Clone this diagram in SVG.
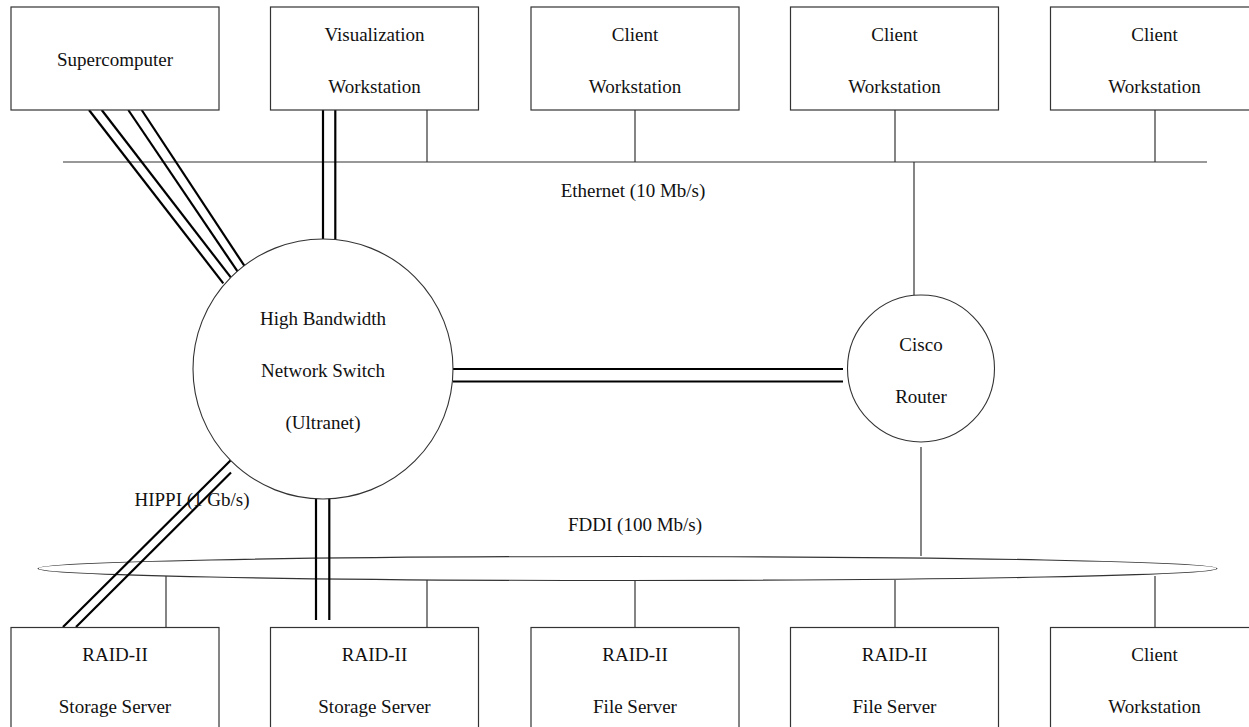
<svg xmlns="http://www.w3.org/2000/svg" width="1249" height="727" viewBox="0 0 1249 727">
<style>
.box{fill:#fff;stroke:#333;stroke-width:1.2}
.node-shape{fill:#fff;stroke:#333;stroke-width:1.1}
.thin{stroke:#333;stroke-width:1.2;fill:none}
.thick{stroke:#000;stroke-width:2.2;fill:none}
text{font-family:"Liberation Serif","Times New Roman",serif;font-size:19px;fill:#111;text-anchor:middle}
</style>
<rect width="1249" height="727" fill="#fff"/>
<g id="connectors">
<line class="thin" x1="63" y1="162" x2="1207" y2="162"/>
<line class="thin" x1="427" y1="110" x2="427" y2="162"/>
<line class="thin" x1="635" y1="110" x2="635" y2="162"/>
<line class="thin" x1="895" y1="110" x2="895" y2="162"/>
<line class="thin" x1="1155" y1="110" x2="1155" y2="162"/>
<line class="thin" x1="914" y1="162" x2="914" y2="296"/>
<line class="thin" x1="921" y1="447" x2="921" y2="556"/>
<ellipse class="thin" cx="627.5" cy="568.5" rx="589.5" ry="12"/>
<line class="thin" x1="166" y1="576" x2="166" y2="627"/>
<line class="thin" x1="427" y1="580" x2="427" y2="627"/>
<line class="thin" x1="635" y1="581" x2="635" y2="627"/>
<line class="thin" x1="895" y1="580" x2="895" y2="627"/>
<line class="thin" x1="1155" y1="576" x2="1155" y2="627"/>
<line class="thick" x1="89" y1="110" x2="223.3" y2="283.3"/>
<line class="thick" x1="101.7" y1="110" x2="231" y2="277.7"/>
<line class="thick" x1="128.3" y1="110" x2="237.7" y2="271.7"/>
<line class="thick" x1="141.7" y1="110" x2="244.3" y2="265.7"/>
<line class="thick" x1="323" y1="110" x2="323" y2="239.5"/>
<line class="thick" x1="335.3" y1="110" x2="335.3" y2="240"/>
<line class="thick" x1="453" y1="369" x2="843" y2="369"/>
<line class="thick" x1="453" y1="381.5" x2="843" y2="381.5"/>
<line class="thick" x1="231" y1="460" x2="63" y2="627"/>
<line class="thick" x1="231" y1="472.5" x2="76" y2="627"/>
<line class="thick" x1="316" y1="491.5" x2="316" y2="620"/>
<line class="thick" x1="329.3" y1="491.5" x2="329.3" y2="620"/>
</g>
<g id="labels">
<text x="633" y="197">Ethernet (10 Mb/s)</text>
<text x="635" y="531">FDDI (100 Mb/s)</text>
<text x="192" y="506">HIPPI (1 Gb/s)</text>
</g>
<g id="supercomputer"><rect class="box" x="11" y="7" width="208" height="103"/><text x="115" y="66">Supercomputer</text></g>
<g id="visualization-workstation"><rect class="box" x="270.5" y="7" width="208" height="103"/><text x="374.5" y="41">Visualization</text><text x="374.5" y="93">Workstation</text></g>
<g id="client-workstation-1"><rect class="box" x="531" y="7" width="208" height="103"/><text x="635" y="41">Client</text><text x="635" y="93">Workstation</text></g>
<g id="client-workstation-2"><rect class="box" x="790.5" y="7" width="208" height="103"/><text x="894.5" y="41">Client</text><text x="894.5" y="93">Workstation</text></g>
<g id="client-workstation-3"><rect class="box" x="1050.5" y="7" width="208" height="103"/><text x="1154.5" y="41">Client</text><text x="1154.5" y="93">Workstation</text></g>
<g id="network-switch"><circle class="node-shape" cx="323" cy="369" r="130"/><text x="323" y="325">High Bandwidth</text><text x="323" y="377">Network Switch</text><text x="323" y="429">(Ultranet)</text></g>
<g id="cisco-router"><circle class="node-shape" cx="921" cy="368.5" r="73.5"/><text x="921" y="351">Cisco</text><text x="921" y="403">Router</text></g>
<g id="raid-storage-1"><rect class="box" x="11" y="627.5" width="208" height="103"/><text x="115" y="661">RAID-II</text><text x="115" y="713">Storage Server</text></g>
<g id="raid-storage-2"><rect class="box" x="270.5" y="627.5" width="208" height="103"/><text x="374.5" y="661">RAID-II</text><text x="374.5" y="713">Storage Server</text></g>
<g id="raid-file-1"><rect class="box" x="531" y="627.5" width="208" height="103"/><text x="635" y="661">RAID-II</text><text x="635" y="713">File Server</text></g>
<g id="raid-file-2"><rect class="box" x="790.5" y="627.5" width="208" height="103"/><text x="894.5" y="661">RAID-II</text><text x="894.5" y="713">File Server</text></g>
<g id="client-workstation-4"><rect class="box" x="1050.5" y="627.5" width="208" height="103"/><text x="1154.5" y="661">Client</text><text x="1154.5" y="713">Workstation</text></g>
</svg>
